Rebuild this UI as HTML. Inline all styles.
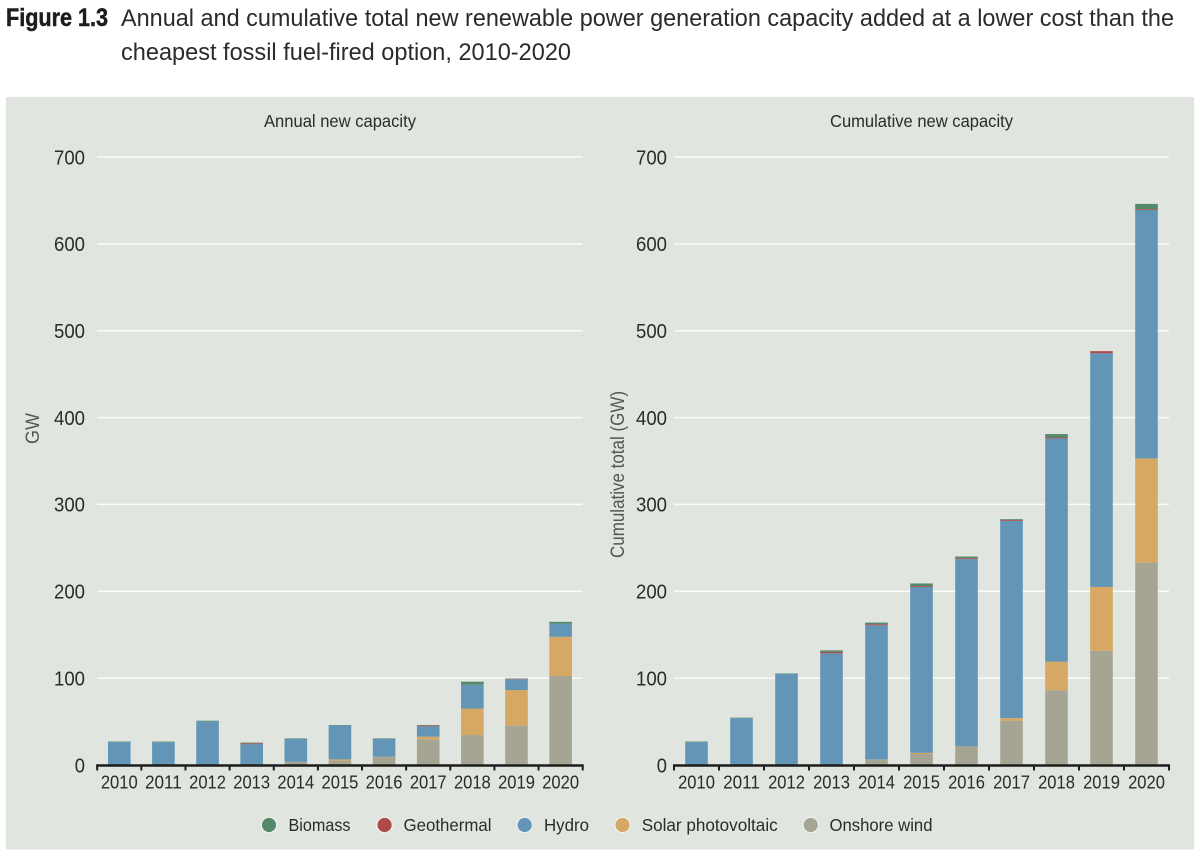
<!DOCTYPE html>
<html lang="en">
<head>
<meta charset="utf-8">
<title>Figure 1.3</title>
<style>
html,body{margin:0;padding:0;background:#fff;width:1200px;height:855px;overflow:hidden}
svg{display:block}
text{font-family:"Liberation Sans",sans-serif;fill:#2b2b2b}
</style>
</head>
<body>
<svg id="chart" xmlns="http://www.w3.org/2000/svg" width="1200" height="855" viewBox="0 0 1200 855">
  <rect x="6" y="97" width="1188" height="752.5" fill="#e0e5df"/>
  <text x="6" y="26" font-size="25" font-weight="bold" textLength="102" lengthAdjust="spacingAndGlyphs" style="fill:#1d1d1b;stroke:#1d1d1b;stroke-width:0.5">Figure 1.3</text>
  <text x="121" y="26" font-size="24.5" textLength="1053" lengthAdjust="spacingAndGlyphs">Annual and cumulative total new renewable power generation capacity added at a lower cost than the</text>
  <text x="121" y="60" font-size="24.5" textLength="450" lengthAdjust="spacingAndGlyphs">cheapest fossil fuel-fired option, 2010-2020</text>
  <text x="264" y="127" font-size="17.5" textLength="152" lengthAdjust="spacingAndGlyphs">Annual new capacity</text>
  <text x="830" y="127" font-size="17.5" textLength="183" lengthAdjust="spacingAndGlyphs">Cumulative new capacity</text>
  <text transform="translate(39,444) rotate(-90)" font-size="19" textLength="31" lengthAdjust="spacingAndGlyphs" style="fill:#555">GW</text>
  <text transform="translate(624,558) rotate(-90)" font-size="19.5" textLength="167" lengthAdjust="spacingAndGlyphs" style="fill:#555">Cumulative total (GW)</text>
  <g id="annual-plot"></g>
  <g id="cumulative-plot"></g>
  <g id="legend"></g>
</svg>
<script>
const years = ['2010','2011','2012','2013','2014','2015','2016','2017','2018','2019','2020'];
const yTicks = [0,100,200,300,400,500,600,700];
const seriesNames = ['Onshore wind','Solar photovoltaic','Hydro','Geothermal','Biomass'];
const seriesColors = ['#a6a593','#d6a863','#6295b6','#b04a4a','#55896c'];

const annualWind  = [0,0,0,0,3.8,5,9.6,29.6,34.5,45.3,102.5];
const annualSolar = [0,0,0,0,0,1.5,0,3,30.5,41,45];
const annualHydro = [26.3,26.3,50.3,24,26.3,39,20.5,12,27.4,12.5,15.3];
const annualGeo   = [0,0,0,1,0,0,0,0.8,0,0.6,0];
const annualBio   = [0.7,0.7,0.7,0.8,0.6,0.5,0.6,0.6,3.5,0.3,2];

const cumulativeWind  = [0,0,0,0,6.5,12.7,21.5,51,86,131.6,233];
const cumulativeSolar = [0,0,0,0,0,1.3,0,3,33,73.4,120];
const cumulativeHydro = [26.3,54,105,128.6,154.3,191,215.5,227,257,269,286];
const cumulativeGeo   = [0,0,0,1.6,1.2,1,1,1,1,2.5,1];
const cumulativeBio   = [0.7,0.5,0.5,1.8,2,3,2,1,4,0,6];

const annualSeries = [annualWind, annualSolar, annualHydro, annualGeo, annualBio];
const cumulativeSeries = [cumulativeWind, cumulativeSolar, cumulativeHydro, cumulativeGeo, cumulativeBio];

const NS = 'http://www.w3.org/2000/svg';
const yBase = 765;
const yScale = 608 / 700;
function yPos(v){ return yBase - v * yScale; }

function svgEl(tag, parent){
  const el = document.createElementNS(NS, tag);
  parent.appendChild(el);
  return el;
}

function drawPlot(parent, prefix, series, left, right, tickRight){
  const step = (right - left) / years.length;
  const barW = 22.6;
  const xBand = function(i){ return left + i * step; };

  yTicks.forEach(function(t){
    if (t > 0) {
      const g = svgEl('line', parent);
      
      
      g.setAttribute('x1', left);
      g.setAttribute('x2', right);
      g.setAttribute('y1', yPos(t));
      g.setAttribute('y2', yPos(t));
      g.setAttribute('stroke', '#fbfbf8');
      g.setAttribute('stroke-width', '1.5');
    }
    const lab = svgEl('text', parent);
    
    
    lab.setAttribute('x', tickRight - (t === 0 ? 10.2 : 31));
    lab.setAttribute('y', yPos(t) + 7.3);
    lab.setAttribute('font-size', '20.5');
    lab.setAttribute('textLength', t === 0 ? 10.2 : 31);
    lab.setAttribute('lengthAdjust', 'spacingAndGlyphs');
    lab.textContent = String(t);
  });

  years.forEach(function(yr, i){
    let acc = 0;
    series.forEach(function(vals, s){
      const v = vals[i];
      if (v > 0) {
        const r = svgEl('rect', parent);
        
        
        r.setAttribute('x', xBand(i) + (step - barW) / 2);
        r.setAttribute('width', barW);
        r.setAttribute('y', yPos(acc + v));
        r.setAttribute('height', v * yScale);
        r.setAttribute('fill', seriesColors[s]);
      }
      acc += v;
    });
  });

  const axis = svgEl('line', parent);
  
  
  axis.setAttribute('x1', left - 1);
  axis.setAttribute('x2', right + 1);
  axis.setAttribute('y1', yBase + 0.5);
  axis.setAttribute('y2', yBase + 0.5);
  axis.setAttribute('stroke', '#1d1d1b');
  axis.setAttribute('stroke-width', '2.4');

  for (let i = 0; i <= years.length; i++) {
    const tk = svgEl('line', parent);
    
    
    tk.setAttribute('x1', xBand(i));
    tk.setAttribute('x2', xBand(i));
    tk.setAttribute('y1', yBase);
    tk.setAttribute('y2', yBase + 5.5);
    tk.setAttribute('stroke', '#1d1d1b');
    tk.setAttribute('stroke-width', '2');
  }

  years.forEach(function(yr, i){
    const lab = svgEl('text', parent);
    
    
    lab.setAttribute('x', xBand(i) + step / 2 - 18.4);
    lab.setAttribute('y', 788.5);
    lab.setAttribute('font-size', '18');
    lab.setAttribute('textLength', '36.8');
    lab.setAttribute('lengthAdjust', 'spacingAndGlyphs');
    lab.textContent = yr;
  });
}

drawPlot(document.getElementById('annual-plot'), 'annual', annualSeries, 97.2, 582.7, 85);
drawPlot(document.getElementById('cumulative-plot'), 'cumulative', cumulativeSeries, 674, 1169, 667);

const legendLabels = ['Biomass','Geothermal','Hydro','Solar photovoltaic','Onshore wind'];
const legendColors = ['#55896c','#b04a4a','#6295b6','#d6a863','#a6a593'];
const legendDotX = [269,384.6,524.7,622.5,810.7];
const legendTextX = [288.5,403.5,544,641.7,829.5];
const legendTextW = [62,88,45,136,103];
const legend = document.getElementById('legend');
legendLabels.forEach(function(name, i){
  const c = svgEl('circle', legend);
  
  
  c.setAttribute('cx', legendDotX[i]);
  c.setAttribute('cy', 825);
  c.setAttribute('r', 7.6);
  c.setAttribute('fill', legendColors[i]);
  c.setAttribute('stroke', '#f4f5f1');
  c.setAttribute('stroke-width', '1');
  const t = svgEl('text', legend);
  
  
  t.setAttribute('x', legendTextX[i]);
  t.setAttribute('y', 831);
  t.setAttribute('font-size', '17.5');
  t.setAttribute('textLength', legendTextW[i]);
  t.setAttribute('lengthAdjust', 'spacingAndGlyphs');
  t.textContent = name;
});
</script>
</body>
</html>
